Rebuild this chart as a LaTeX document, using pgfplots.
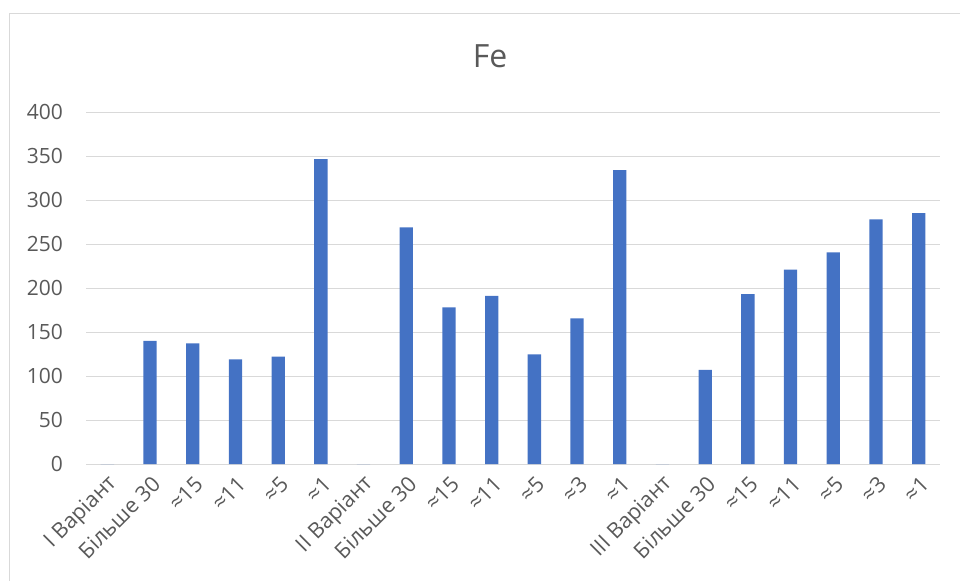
\documentclass[border=0pt]{standalone}
\usepackage{fontspec}
\setmainfont{Open Sans}
\usepackage{pgfplots}
\pgfplotsset{compat=1.18}
\definecolor{barblue}{HTML}{4472C4}
\definecolor{gridgray}{HTML}{D9D9D9}
\definecolor{txtgray}{HTML}{595959}
\begin{document}
\begin{tikzpicture}
\path[use as bounding box] (0,0) rectangle (960bp,581bp);
\draw[gridgray, line width=1bp] (9bp,-5bp) -- (9bp,567bp) -- (965bp,567bp);
\node[anchor=base, text=txtgray, font=\fontsize{32bp}{38bp}\selectfont] at (490bp,513bp) {Fe};
\begin{axis}[
  at={(86bp,117bp)}, anchor=south west,
  scale only axis, width=854bp, height=352bp,
  xmin=-0.5, xmax=19.5, ymin=0, ymax=400,
  ytick={0,50,...,400},
  xtick={0,...,19},
  xticklabels={I Варіант, Більше 30, ≈15, ≈11, ≈5, ≈1, II Варіант, Більше 30, ≈15, ≈11, ≈5, ≈3, ≈1, III Варіант, Більше 30, ≈15, ≈11, ≈5, ≈3, ≈1},
  axis line style={draw=none},
  major tick length=0pt,
  ymajorgrids, major grid style={draw=gridgray, line width=1bp},
  /pgf/number format/assume math mode=true,
  ticklabel style={font=\fontsize{21bp}{25bp}\selectfont, text=txtgray, inner sep=0pt},
  yticklabel style={anchor=east, xshift=-23bp},
  xticklabel style={rotate=45, anchor=east, font=\fontsize{21.5bp}{25bp}\selectfont, xshift=-7bp, yshift=-16bp},
  ybar, bar width=13.3bp,
  clip=false,
]
\draw[gridgray, line width=1bp] (axis cs:-0.5,0) -- (axis cs:19.5,0);
\addplot[fill=barblue, draw=none] coordinates {
(0,0) (1,140) (2,137) (3,119) (4,122) (5,346.5)
(6,0) (7,269) (8,178) (9,191) (10,124.5) (11,165.5) (12,334)
(13,0) (14,107) (15,193) (16,221) (17,240.5) (18,278) (19,285)
};
\end{axis}
\end{tikzpicture}
\end{document}
